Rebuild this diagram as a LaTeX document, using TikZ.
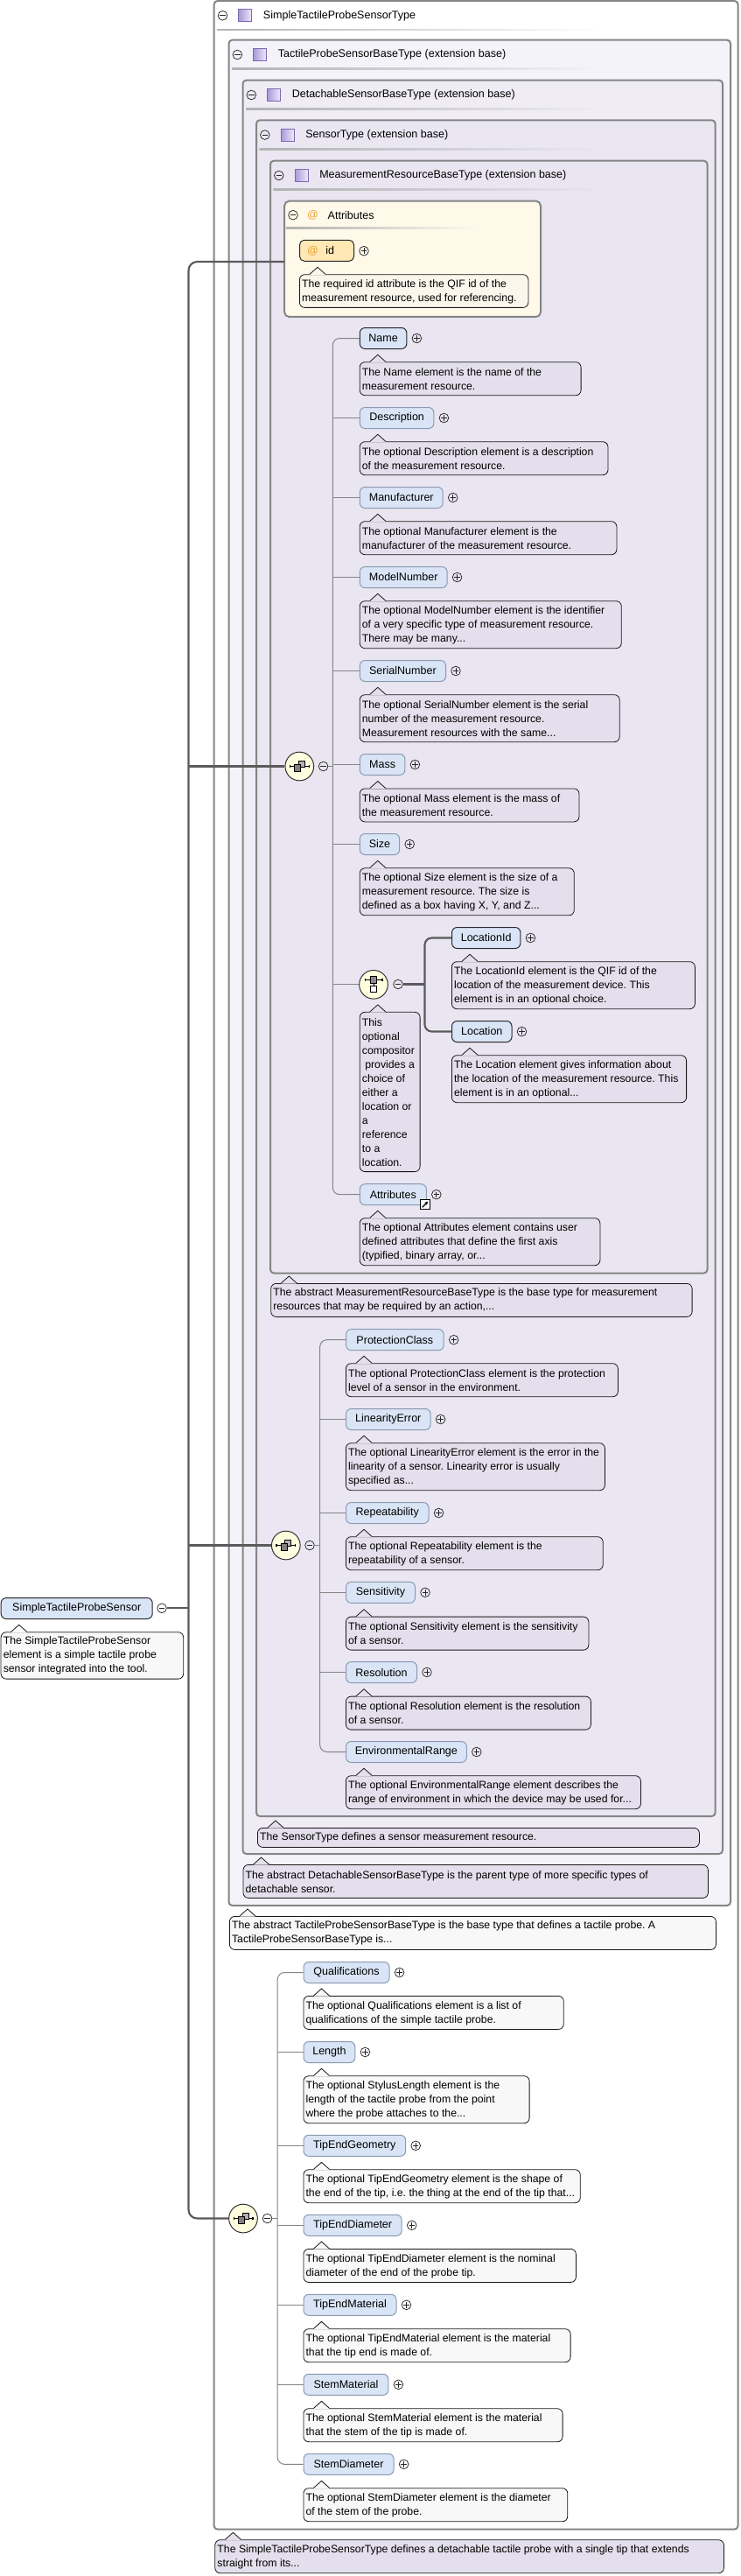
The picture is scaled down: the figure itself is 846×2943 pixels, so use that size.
\documentclass[tikz,border=0pt]{standalone}
\usepackage{fontspec}
\setmainfont{Liberation Sans}
\usetikzlibrary{arrows.meta}
\definecolor{boxborder}{HTML}{858585}
\definecolor{lavA}{HTML}{F5F3FA}
\definecolor{lavB}{HTML}{EFECF6}
\definecolor{lavC}{HTML}{EAE7F3}
\definecolor{lavD}{HTML}{E9E5F1}
\definecolor{attrfill}{HTML}{FFF9EA}
\definecolor{descL}{HTML}{E4DFEC}
\definecolor{descW}{HTML}{F8F8F8}
\definecolor{descY}{HTML}{FAF6EC}
\definecolor{elemfill}{HTML}{D9E5F6}
\definecolor{elemborder}{HTML}{8C9AB0}
\definecolor{reqborder}{HTML}{2A2A2A}
\definecolor{compfill}{HTML}{FFFFE0}
\definecolor{linegray}{HTML}{858585}
\definecolor{trunkgray}{HTML}{5A5A5A}
\definecolor{atcolor}{HTML}{EBA12E}
\definecolor{idfill}{HTML}{FFE8B4}
\definecolor{iconA}{HTML}{A898D8}
\definecolor{iconB}{HTML}{EEEAFA}
\definecolor{iconborder}{HTML}{7A6AB0}
\newcommand\descfont{\fontsize{9.2pt}{12pt}\selectfont\frenchspacing}
\newcommand\elemfont{\fontsize{9.4pt}{12pt}\selectfont\frenchspacing}
\tikzset{
 elem/.style={draw=elemborder, fill=elemfill, rounded corners=4.5pt, minimum height=18pt, inner sep=0pt, anchor=west, font=\elemfont, line width=0.75pt},
 reqelem/.style={elem, draw=reqborder},
 descbox/.style={draw=black!90, rounded corners=4.5pt, anchor=north west, inner sep=0pt, line width=0.6pt},
 desctext/.style={anchor=west, align=left, inner sep=0pt, font=\descfont},
 pmbase/.style={circle, draw=black!85, line width=0.55pt, minimum size=8pt, inner sep=0pt},
 plusnode/.style={pmbase, path picture={\draw[line width=0.55pt] ([xshift=-2.4pt]path picture bounding box.center) -- ([xshift=2.4pt]path picture bounding box.center) ([yshift=-2.4pt]path picture bounding box.center) -- ([yshift=2.4pt]path picture bounding box.center);}},
 minusnode/.style={pmbase, path picture={\draw[line width=0.55pt] ([xshift=-2.4pt]path picture bounding box.center) -- ([xshift=2.4pt]path picture bounding box.center);}},
 comp/.style={circle, draw=black!80, fill=compfill, minimum size=24.5pt, inner sep=0pt, line width=0.75pt},
 boxline/.style={draw=boxborder, line width=1.5pt},
 seqline/.style={draw=linegray, line width=0.75pt},
 trunk/.style={draw=trunkgray, line width=1.6pt},
 lbl/.style={anchor=west, inner sep=0pt, font=\elemfont}
}
\newcommand\Elem[6][elem]{%
  \node[#1, minimum width=#5*0.75pt] (#2) at (#3,#4) {#6};
  \node[plusnode] (#2-p) at ([xshift=8.25pt]#2.east) {};
}
\newcommand\Desc[7][descL]{%
  \node[descbox, fill=#1, minimum width=#5*0.75pt, minimum height=#6*0.75pt] (#2) at (#3,#4) {};
  \fill[#1] ([xshift=9pt,yshift=-0.5pt]#2.north west) -- ([xshift=15.75pt,yshift=6pt]#2.north west) -- ([xshift=22.5pt,yshift=-0.5pt]#2.north west) -- cycle;
  \draw[line width=0.6pt, black!90] ([xshift=9pt]#2.north west) -- ([xshift=15.75pt,yshift=6pt]#2.north west) -- ([xshift=22.5pt]#2.north west);
  \node[desctext] (#2-t) at ([xshift=2.1pt,yshift=-0.3pt]#2.west) {#7};
}
\newcommand\TBox[7]{%
  \draw[boxline, fill=#6, rounded corners=3pt] (#2,#3) rectangle (#4,#5);
  \node[minusnode] (#1-m) at (#2+9.8,#3+16.8) {};
  \shadedraw[left color=iconA, right color=iconB, draw=iconborder, line width=0.5pt] (#2+28,#3+9.8) rectangle (#2+43,#3+23.8);
  \node[lbl] (#1-t) at (#2+56,#3+16.8) {#7};
  \shade[left color=black!30, middle color=black!55, right color=#6] (#2+3.5,#3+32.3) rectangle (691,#3+34);
}
\newcommand\SeqIcon[1]{%
 \begin{scope}[shift={(#1.center)}]
  \draw[line width=0.6pt] (-11,0) -- (11,0);
  \fill (-11.5,-1.8) rectangle (-10.3,1.8); \fill (10.3,-1.8) rectangle (11.5,1.8);
  \filldraw[fill=black!30, line width=0.5pt] (-1,-6.5) rectangle (6,0.5);
  \filldraw[fill=black!50, line width=0.5pt] (-5.5,-2) rectangle (1.5,5.5);
 \end{scope}}
\newcommand\ChIcon[1]{%
 \begin{scope}[shift={(#1.center)}]
  \draw[line width=0.6pt] (-10,-5.4) -- (10,-5.4);
  \fill (-10.5,-7.2) rectangle (-9.3,-3.6); \fill (9.3,-7.2) rectangle (10.5,-3.6);
  \draw[line width=0.6pt] (0,-5.4) -- (0,1.6);
  \filldraw[fill=black!45, line width=0.5pt] (-3.6,-9) rectangle (3.6,-1.8);
  \filldraw[fill=white, line width=0.5pt] (-3.6,1.6) rectangle (3.6,8.8);
 \end{scope}}
\begin{document}
\begin{tikzpicture}[x=0.75pt, y=-0.75pt]
\useasboundingbox (0,0) rectangle (846,2943);
\fill[white] (0,0) rectangle (846,2943);

% nested type boxes
\TBox{tOut}{244.7}{1}{843.5}{2889.7}{white}{SimpleTactileProbeSensorType}
\TBox{tTP}{261.5}{45.7}{835}{2177}{lavA}{TactileProbeSensorBaseType (extension base)}
\TBox{tDS}{277.5}{91.7}{826}{2118}{lavB}{DetachableSensorBaseType (extension base)}
\TBox{tST}{293}{137.3}{817.6}{2075}{lavC}{SensorType (extension base)}
\TBox{tMR}{309}{183.7}{808.5}{1454.5}{lavD}{MeasurementResourceBaseType (extension base)}

% attributes box
\draw[boxline, fill=attrfill, rounded corners=4pt] (325.2,229.7) rectangle (618,362);
\node[minusnode] (attr-m) at (335,245.7) {};
\node[text=atcolor, font=\elemfont, inner sep=0pt] (attr-at) at (357.6,245.7) {@};
\node[lbl] (attr-t) at (374.4,245.7) {Attributes};
\shade[left color=black!30, middle color=black!45, right color=attrfill] (327,260) rectangle (545,261.5);
\coordinate (attrL) at (325.2,299);
\node[draw=reqborder, fill=idfill, rounded corners=4pt, minimum width=62*0.75pt, minimum height=24*0.75pt, anchor=west, inner sep=0pt, line width=0.75pt] (idn) at (342,286.3) {};
\node[text=atcolor, font=\elemfont, inner sep=0pt] (idn-at) at (357.6,286.7) {@};
\node[lbl] (idn-t) at (372,286.3) {id};
\node[plusnode] (idn-p) at (416,286.7) {};
\Desc[descY]{idd}{342}{313.3}{261.5}{37.7}{The required id attribute is the QIF id of the\\measurement resource, used for referencing.}

% root element
\node[reqelem, minimum width=173*0.75pt] (root) at (0.7,1837.5) {SimpleTactileProbeSensor};
\node[minusnode] (root-m) at (185,1837.3) {};
\Desc[descW]{rootd}{0.7}{1864.3}{208.6}{53.4}{The SimpleTactileProbeSensor\\element is a simple tactile probe\\sensor integrated into the tool.}

% compositors
\node[comp] (sqA) at (342.3,875.5) {};
\node[minusnode] (sqA-m) at (369.6,875.5) {};
\SeqIcon{sqA}
\node[comp] (chc) at (427,1124.8) {};
\node[minusnode] (chc-m) at (455,1124.5) {};
\ChIcon{chc}
\node[comp] (sqB) at (326.8,1765.5) {};
\node[minusnode] (sqB-m) at (354,1765.5) {};
\SeqIcon{sqB}
\node[comp] (sqC) at (278,2534.5) {};
\node[minusnode] (sqC-m) at (305.6,2534.5) {};
\SeqIcon{sqC}
\coordinate (vA) at (380.3,0);
\coordinate (vC) at (485.5,0);
\coordinate (vB) at (365.7,0);
\coordinate (vD) at (317.2,0);

% trunk
\coordinate (tTop) at (215.5,299);
\coordinate (tBot) at (215.5,2534.5);
\draw[trunk, rounded corners=7.5pt] (attrL) -- (tTop) -- (tBot) -- (sqC.west);
\draw[trunk] (tTop |- sqA.west) -- (sqA.west);
\draw[trunk] (tTop |- sqB.west) -- (sqB.west);
\draw[trunk] (root-m.east) -- (tTop |- root-m.east);

% MeasurementResourceBaseType sequence
\Elem[reqelem]{eName}{410.8}{386.5}{53.6}{Name}
\Desc{dName}{410.8}{413.3}{252.9}{38}{The Name element is the name of the\\measurement resource.}
\Elem{eDesc}{410.8}{477.5}{84.6}{Description}
\Desc{dDesc}{410.8}{504.3}{283.8}{38}{The optional Description element is a description\\of the measurement resource.}
\Elem{eManu}{410.8}{568.5}{94.9}{Manufacturer}
\Desc{dManu}{410.8}{595.3}{293.7}{38}{The optional Manufacturer element is the\\manufacturer of the measurement resource.}
\Elem{eModel}{410.8}{659.5}{99.8}{ModelNumber}
\Desc{dModel}{410.8}{686.3}{299.1}{54}{The optional ModelNumber element is the identifier\\of a very specific type of measurement resource.\\There may be many...}
\Elem{eSerial}{410.8}{766.5}{98.2}{SerialNumber}
\Desc{dSerial}{410.8}{793.3}{297}{54}{The optional SerialNumber element is the serial\\number of the measurement resource.\\Measurement resources with the same...}
\Elem{eMass}{410.8}{873.5}{51.6}{Mass}
\Desc{dMass}{410.8}{900.5}{250.8}{38}{The optional Mass element is the mass of\\the measurement resource.}
\Elem{eSize}{410.8}{964.5}{45.4}{Size}
\Desc{dSize}{410.8}{991.4}{245.1}{54}{The optional Size element is the size of a\\measurement resource. The size is\\defined as a box having X, Y, and Z...}
\Desc{dChc}{410.8}{1155.9}{68.9}{182.3}{This\\optional\\compositor\\\ provides a\\choice of\\either a\\location or\\a\\reference\\to a\\location.}
\Elem[reqelem]{eLocId}{516}{1071.5}{78.4}{LocationId}
\Desc{dLocId}{516}{1098.3}{278}{54}{The LocationId element is the QIF id of the\\location of the measurement device. This\\element is in an optional choice.}
\Elem[reqelem]{eLoc}{516}{1178.5}{68.5}{Location}
\Desc{dLoc}{516}{1205.3}{268.2}{54}{The Location element gives information about\\the location of the measurement resource. This\\element is in an optional...}
\Elem{eAttr}{410.8}{1364.7}{76}{Attributes}
\node[draw=black, fill=white, minimum size=8.25pt, inner sep=0pt, line width=0.6pt] (attlink) at (485.7,1376.2) {};
\draw[-{Stealth[length=3pt,width=3pt]}, line width=0.9pt] ([shift={(-2.3pt,-2.3pt)}]attlink.center) -- ([shift={(2.6pt,2.6pt)}]attlink.center);
\Desc{dAttr}{410.8}{1391.3}{274.7}{54}{The optional Attributes element contains user\\defined attributes that define the first axis\\(typified, binary array, or...}
\Desc{dMR}{309.3}{1466}{481.4}{38}{The abstract MeasurementResourceBaseType is the base type for measurement\\resources that may be required by an action,...}

\draw[seqline, rounded corners=6pt] (eName.west) -- (vA |- eName.west) -- (vA |- eAttr.west) -- (eAttr.west);
\foreach \n in {eDesc,eManu,eModel,eSerial,eMass,eSize,chc} {\draw[seqline] (vA |- \n.west) -- (\n.west);}
\draw[seqline] (sqA-m.east) -- (vA |- sqA-m.east);
\draw[trunk, rounded corners=6pt] (eLocId.west) -- (vC |- eLocId.west) -- (vC |- eLoc.west) -- (eLoc.west);
\draw[trunk] (chc-m.east) -- (vC |- chc-m.east);

% SensorType sequence
\Elem{ePC}{395}{1530.7}{111.7}{ProtectionClass}
\Desc{dPC}{395}{1557.3}{311}{38}{The optional ProtectionClass element is the protection\\level of a sensor in the environment.}
\Elem{eLE}{395}{1621.5}{96.6}{LinearityError}
\Desc{dLE}{395}{1648.3}{296}{54}{The optional LinearityError element is the error in the\\linearity of a sensor. Linearity error is usually\\specified as...}
\Elem{eRep}{395}{1728.5}{94.5}{Repeatability}
\Desc{dRep}{395}{1755.3}{293.8}{38}{The optional Repeatability element is the\\repeatability of a sensor.}
\Elem{eSens}{395}{1819.3}{79}{Sensitivity}
\Desc{dSens}{395}{1846.7}{277.5}{38}{The optional Sensitivity element is the sensitivity\\of a sensor.}
\Elem{eRes}{395}{1910.5}{81}{Resolution}
\Desc{dRes}{395}{1937.7}{280}{38}{The optional Resolution element is the resolution\\of a sensor.}
\Elem{eER}{395}{2001.5}{137.8}{EnvironmentalRange}
\Desc{dER}{395}{2028.3}{337}{38}{The optional EnvironmentalRange element describes the\\range of environment in which the device may be used for...}
\draw[seqline, rounded corners=6pt] (ePC.west) -- (vB |- ePC.west) -- (vB |- eER.west) -- (eER.west);
\foreach \n in {eLE,eRep,eSens,eRes} {\draw[seqline] (vB |- \n.west) -- (\n.west);}
\draw[seqline] (sqB-m.east) -- (vB |- sqB-m.east);

\Desc{dST}{294}{2088}{505}{22}{The SensorType defines a sensor measurement resource.}
\Desc{dDS}{277.6}{2130}{531.4}{38}{The abstract DetachableSensorBaseType is the parent type of more specific types of\\detachable sensor.}
\Desc[descW]{dTP}{262}{2189}{556}{38}{The abstract TactileProbeSensorBaseType is the base type that defines a tactile probe. A\\TactileProbeSensorBaseType is...}

% bottom sequence
\Elem{eQual}{346.5}{2253.5}{98.1}{Qualifications}
\Desc[descW]{dQual}{346.5}{2280}{297.4}{38}{The optional Qualifications element is a list of\\qualifications of the simple tactile probe.}
\Elem{eLen}{346.5}{2344.5}{58.9}{Length}
\Desc[descW]{dLen}{346.5}{2371.3}{258.2}{54}{The optional StylusLength element is the\\length of the tactile probe from the point\\where the probe attaches to the...}
\Elem{eTEG}{346.5}{2451.3}{116.7}{TipEndGeometry}
\Desc[descW]{dTEG}{346.5}{2478.3}{316.4}{38}{The optional TipEndGeometry element is the shape of\\the end of the tip, i.e. the thing at the end of the tip that...}
\Elem{eTED}{346.5}{2542.3}{112.2}{TipEndDiameter}
\Desc[descW]{dTED}{346.5}{2569}{311.5}{38}{The optional TipEndDiameter element is the nominal\\diameter of the end of the probe tip.}
\Elem{eTEM}{346.5}{2633.3}{106}{TipEndMaterial}
\Desc[descW]{dTEM}{346.5}{2660.3}{305.2}{38}{The optional TipEndMaterial element is the material\\that the tip end is made of.}
\Elem{eSM}{346.5}{2724.3}{96.9}{StemMaterial}
\Desc[descW]{dSM}{346.5}{2751.3}{296.2}{38}{The optional StemMaterial element is the material\\that the stem of the tip is made of.}
\Elem{eSD}{346.5}{2815.3}{103.1}{StemDiameter}
\Desc[descW]{dSD}{346.5}{2842.3}{301.9}{38}{The optional StemDiameter element is the diameter\\of the stem of the probe.}
\draw[seqline, rounded corners=6pt] (eQual.west) -- (vD |- eQual.west) -- (vD |- eSD.west) -- (eSD.west);
\foreach \n in {eLen,eTEG,eTED,eTEM,eSM} {\draw[seqline] (vD |- \n.west) -- (\n.west);}
\draw[seqline] (sqC-m.east) -- (vD |- sqC-m.east);

\Desc{dOut}{245.4}{2901.3}{581.6}{38}{The SimpleTactileProbeSensorType defines a detachable tactile probe with a single tip that extends\\straight from its...}
\end{tikzpicture}
\end{document}
